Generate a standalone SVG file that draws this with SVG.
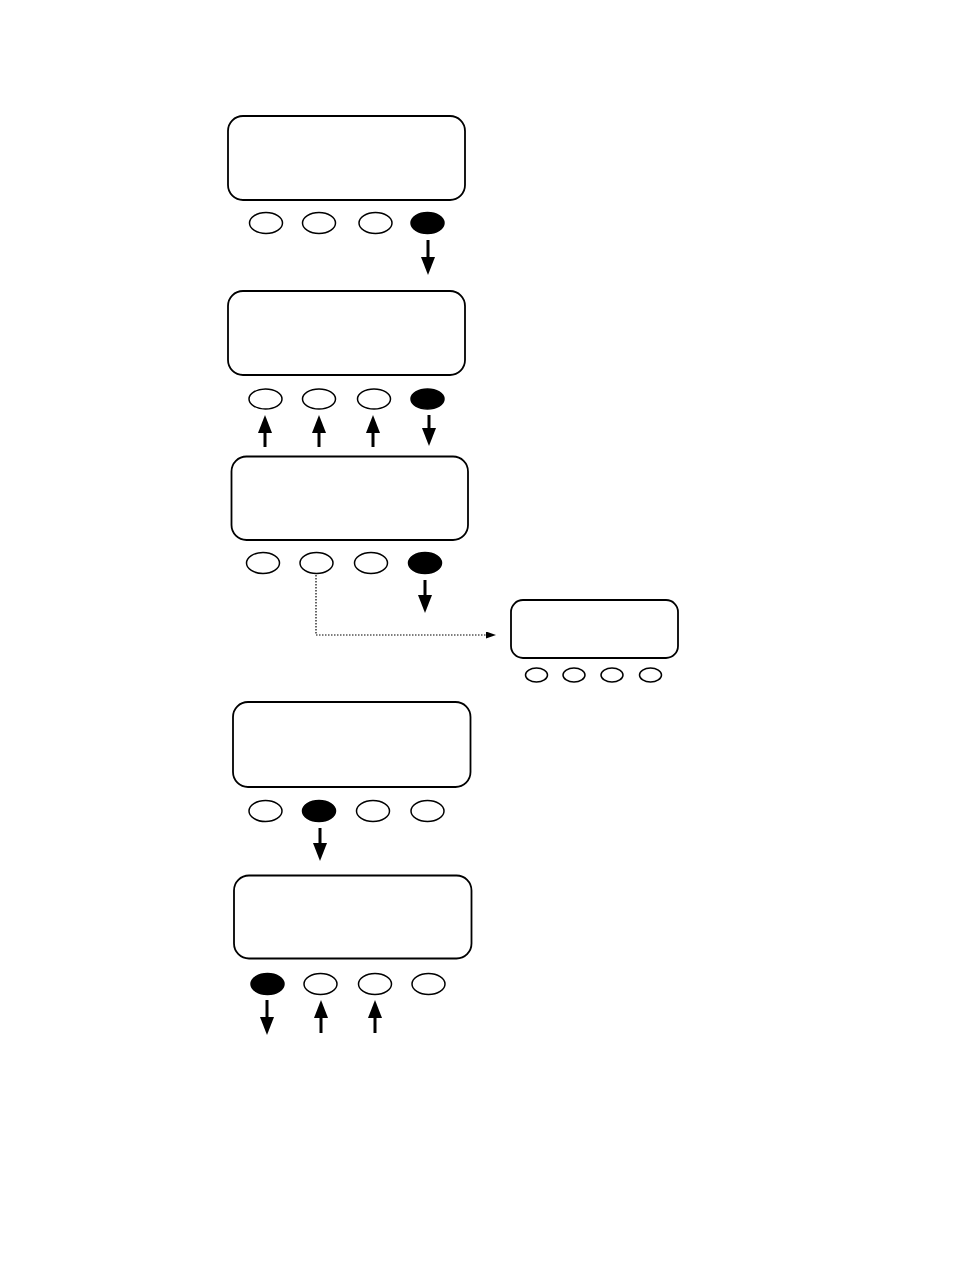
<svg xmlns="http://www.w3.org/2000/svg" width="954" height="1272" viewBox="0 0 954 1272">
<style>
.scr{fill:#fff;stroke:#000;stroke-width:1.8}
.btn{fill:#fff;stroke:#000;stroke-width:1.5}
.on{fill:#000;stroke:#000;stroke-width:1.5}
.arr{stroke:#000;stroke-width:3;fill:none;marker-end:url(#ah)}
.dot{stroke:#000;stroke-width:1.2;fill:none;stroke-dasharray:1.5 1.5;marker-end:url(#sh)}
</style>
<defs>
<marker id="ah" markerUnits="userSpaceOnUse" markerWidth="18" markerHeight="14" refX="0" refY="7" orient="auto" viewBox="0 0 18 14"><path d="M0,0 L18,7 L0,14 z" fill="#000"/></marker>
<marker id="sh" markerUnits="userSpaceOnUse" markerWidth="10" markerHeight="7" refX="0" refY="3.5" orient="auto" viewBox="0 0 10 7"><path d="M0,0 L10,3.5 L0,7 z" fill="#000"/></marker>
</defs>
<rect width="954" height="1272" fill="#fff"/>
<g id="screen1">
<rect class="scr" x="228" y="116" width="237" height="84" rx="15"/>
<ellipse class="btn" cx="266" cy="223" rx="16.5" ry="10.5"/>
<ellipse class="btn" cx="319" cy="223" rx="16.5" ry="10.5"/>
<ellipse class="btn" cx="375.5" cy="223" rx="16.5" ry="10.5"/>
<ellipse class="on" cx="427.5" cy="223" rx="16.5" ry="10.5"/>
</g>
<g id="screen2">
<rect class="scr" x="228" y="291" width="237" height="84" rx="15"/>
<ellipse class="btn" cx="265.5" cy="399" rx="16.5" ry="10"/>
<ellipse class="btn" cx="319" cy="399" rx="16.5" ry="10"/>
<ellipse class="btn" cx="374" cy="399" rx="16.5" ry="10"/>
<ellipse class="on" cx="427.5" cy="399" rx="16.5" ry="10"/>
</g>
<g id="screen3">
<rect class="scr" x="231.5" y="456.5" width="236.5" height="83.5" rx="15"/>
<ellipse class="btn" cx="263" cy="563" rx="16.5" ry="10.5"/>
<ellipse class="btn" cx="316.5" cy="563" rx="16.5" ry="10.5"/>
<ellipse class="btn" cx="371" cy="563" rx="16.5" ry="10.5"/>
<ellipse class="on" cx="425" cy="563" rx="16.5" ry="10.5"/>
</g>
<g id="screen4">
<rect class="scr" x="511" y="600" width="167" height="58" rx="12"/>
<ellipse class="btn" cx="536.5" cy="675" rx="11" ry="7"/>
<ellipse class="btn" cx="574" cy="675" rx="11" ry="7"/>
<ellipse class="btn" cx="612" cy="675" rx="11" ry="7"/>
<ellipse class="btn" cx="650.5" cy="675" rx="11" ry="7"/>
</g>
<g id="screen5">
<rect class="scr" x="233" y="702" width="237.5" height="85" rx="15"/>
<ellipse class="btn" cx="265.5" cy="811" rx="16.5" ry="10.5"/>
<ellipse class="on" cx="319" cy="811" rx="16.5" ry="10.5"/>
<ellipse class="btn" cx="373" cy="811" rx="16.5" ry="10.5"/>
<ellipse class="btn" cx="427.5" cy="811" rx="16.5" ry="10.5"/>
</g>
<g id="screen6">
<rect class="scr" x="234" y="875.5" width="237.5" height="83" rx="15"/>
<ellipse class="on" cx="267.5" cy="984" rx="16.5" ry="10.5"/>
<ellipse class="btn" cx="320.5" cy="984" rx="16.5" ry="10.5"/>
<ellipse class="btn" cx="375" cy="984" rx="16.5" ry="10.5"/>
<ellipse class="btn" cx="428.5" cy="984" rx="16.5" ry="10.5"/>
</g>
<g id="connectors">
<line class="arr" x1="428" y1="240" x2="428" y2="257"/>
<line class="arr" x1="265" y1="447" x2="265" y2="433"/>
<line class="arr" x1="319" y1="447" x2="319" y2="433"/>
<line class="arr" x1="373" y1="447" x2="373" y2="433"/>
<line class="arr" x1="429" y1="415" x2="429" y2="428"/>
<line class="arr" x1="425" y1="580" x2="425" y2="595"/>
<path class="dot" d="M316,575 V635 H486"/>
<line class="arr" x1="320" y1="828" x2="320" y2="843"/>
<line class="arr" x1="267" y1="1000" x2="267" y2="1017"/>
<line class="arr" x1="321" y1="1033" x2="321" y2="1018"/>
<line class="arr" x1="375" y1="1033" x2="375" y2="1018"/>
</g>
</svg>
